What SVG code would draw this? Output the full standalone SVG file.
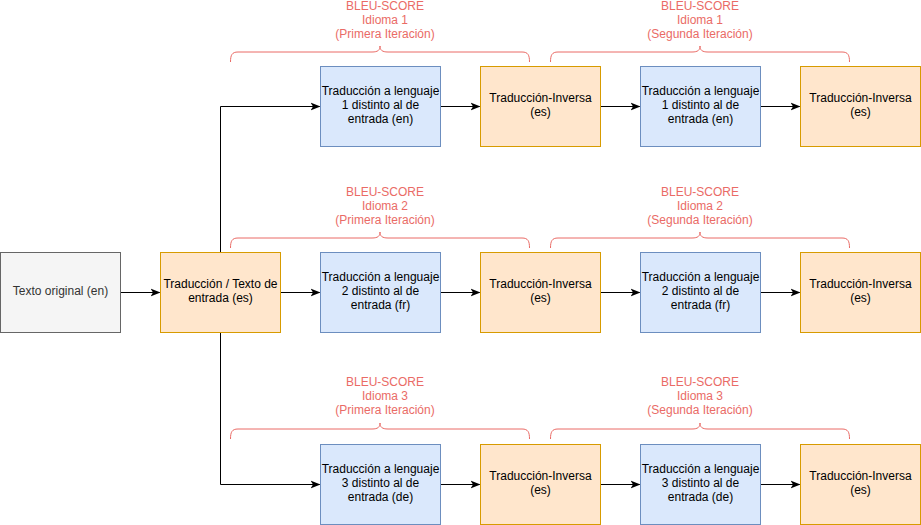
<svg xmlns="http://www.w3.org/2000/svg" width="921" height="525" viewBox="0 0 921 525">
  <defs>
    <marker id="arrow" viewBox="0 0 10 10" refX="9" refY="5" markerWidth="10" markerHeight="10" markerUnits="userSpaceOnUse" orient="auto">
      <path d="M0,1 L10,5 L0,9 L2.5,5 Z" fill="#000"/>
    </marker>
    <!-- curly bracket, 300 wide, spanning x 0..300 -->
    <path id="brace" d="M0.5,11 C0.5,4 2,1 8,1 L142,1 C148,1 150,-1 150,-5 C150,-1 152,1 158,1 L292,1 C298,1 299.5,4 299.5,11" fill="none" stroke="#EA6B66" stroke-width="1"/>
  </defs>
  <style>
    .t { font-family: "Liberation Sans", Helvetica, Arial, sans-serif; font-size: 12px; text-anchor: middle; fill: #000; }
    .g { fill: #333333; }
    .r { fill: #EA6B66; }
    .blue { fill: #dae8fc; stroke: #6c8ebf; stroke-width: 1; }
    .orange { fill: #ffe6cc; stroke: #d79b00; stroke-width: 1; }
    .gray { fill: #f5f5f5; stroke: #666666; stroke-width: 1; }
    .edge { fill: none; stroke: #000; stroke-width: 1; marker-end: url(#arrow); }
  </style>

  <rect width="921" height="525" fill="#fff"/>

  <!-- connectors -->
  <g id="connectors">
    <path class="edge" d="M120.5,292.5 L159.5,292.5"/>
    <path class="edge" d="M220.5,252.5 L220.5,106.5 L319.5,106.5"/>
    <path class="edge" d="M280.5,292.5 L319.5,292.5"/>
    <path class="edge" d="M220.5,332.5 L220.5,484.5 L319.5,484.5"/>
    <path class="edge" d="M440.5,106.5 L479.5,106.5"/>
    <path class="edge" d="M600.5,106.5 L639.5,106.5"/>
    <path class="edge" d="M760.5,106.5 L799.5,106.5"/>
    <path class="edge" d="M440.5,292.5 L479.5,292.5"/>
    <path class="edge" d="M600.5,292.5 L639.5,292.5"/>
    <path class="edge" d="M760.5,292.5 L799.5,292.5"/>
    <path class="edge" d="M440.5,484.5 L479.5,484.5"/>
    <path class="edge" d="M600.5,484.5 L639.5,484.5"/>
    <path class="edge" d="M760.5,484.5 L799.5,484.5"/>
  </g>

  <!-- brackets with BLEU labels -->
  <g id="bleu-1a">
    <use href="#brace" x="230" y="51"/>
    <text class="t r" x="385" y="10">BLEU-SCORE</text>
    <text class="t r" x="385" y="24">Idioma 1</text>
    <text class="t r" x="385" y="38">(Primera Iteración)</text>
  </g>
  <g id="bleu-1b">
    <use href="#brace" x="550" y="51"/>
    <text class="t r" x="700" y="10">BLEU-SCORE</text>
    <text class="t r" x="700" y="24">Idioma 1</text>
    <text class="t r" x="700" y="38">(Segunda Iteración)</text>
  </g>
  <g id="bleu-2a">
    <use href="#brace" x="230" y="237"/>
    <text class="t r" x="385" y="196">BLEU-SCORE</text>
    <text class="t r" x="385" y="210">Idioma 2</text>
    <text class="t r" x="385" y="224">(Primera Iteración)</text>
  </g>
  <g id="bleu-2b">
    <use href="#brace" x="550" y="237"/>
    <text class="t r" x="700" y="196">BLEU-SCORE</text>
    <text class="t r" x="700" y="210">Idioma 2</text>
    <text class="t r" x="700" y="224">(Segunda Iteración)</text>
  </g>
  <g id="bleu-3a">
    <use href="#brace" x="230" y="428"/>
    <text class="t r" x="385" y="386">BLEU-SCORE</text>
    <text class="t r" x="385" y="400">Idioma 3</text>
    <text class="t r" x="385" y="414">(Primera Iteración)</text>
  </g>
  <g id="bleu-3b">
    <use href="#brace" x="550" y="428"/>
    <text class="t r" x="700" y="386">BLEU-SCORE</text>
    <text class="t r" x="700" y="400">Idioma 3</text>
    <text class="t r" x="700" y="414">(Segunda Iteración)</text>
  </g>

  <!-- source nodes -->
  <g id="texto-original">
    <rect class="gray" x="0.5" y="252.5" width="120" height="80"/>
    <text class="t g" x="60.5" y="295">Texto original (en)</text>
  </g>
  <g id="traduccion-entrada">
    <rect class="orange" x="160.5" y="252.5" width="120" height="80"/>
    <text class="t" x="220.5" y="288">Traducción / Texto de</text>
    <text class="t" x="220.5" y="302">entrada (es)</text>
  </g>

  <!-- row 1 -->
  <g id="r1-trad-1">
    <rect class="blue" x="320.5" y="66.5" width="120" height="80"/>
    <text class="t" x="380.5" y="95">Traducción a lenguaje</text>
    <text class="t" x="380.5" y="109">1 distinto al de</text>
    <text class="t" x="380.5" y="123">entrada (en)</text>
  </g>
  <g id="r1-inv-1">
    <rect class="orange" x="480.5" y="66.5" width="120" height="80"/>
    <text class="t" x="540.5" y="102">Traducción-Inversa</text>
    <text class="t" x="540.5" y="116">(es)</text>
  </g>
  <g id="r1-trad-2">
    <rect class="blue" x="640.5" y="66.5" width="120" height="80"/>
    <text class="t" x="700.5" y="95">Traducción a lenguaje</text>
    <text class="t" x="700.5" y="109">1 distinto al de</text>
    <text class="t" x="700.5" y="123">entrada (en)</text>
  </g>
  <g id="r1-inv-2">
    <rect class="orange" x="800.5" y="66.5" width="120" height="80"/>
    <text class="t" x="860.5" y="102">Traducción-Inversa</text>
    <text class="t" x="860.5" y="116">(es)</text>
  </g>

  <!-- row 2 -->
  <g id="r2-trad-1">
    <rect class="blue" x="320.5" y="252.5" width="120" height="80"/>
    <text class="t" x="380.5" y="281">Traducción a lenguaje</text>
    <text class="t" x="380.5" y="295">2 distinto al de</text>
    <text class="t" x="380.5" y="309">entrada (fr)</text>
  </g>
  <g id="r2-inv-1">
    <rect class="orange" x="480.5" y="252.5" width="120" height="80"/>
    <text class="t" x="540.5" y="288">Traducción-Inversa</text>
    <text class="t" x="540.5" y="302">(es)</text>
  </g>
  <g id="r2-trad-2">
    <rect class="blue" x="640.5" y="252.5" width="120" height="80"/>
    <text class="t" x="700.5" y="281">Traducción a lenguaje</text>
    <text class="t" x="700.5" y="295">2 distinto al de</text>
    <text class="t" x="700.5" y="309">entrada (fr)</text>
  </g>
  <g id="r2-inv-2">
    <rect class="orange" x="800.5" y="252.5" width="120" height="80"/>
    <text class="t" x="860.5" y="288">Traducción-Inversa</text>
    <text class="t" x="860.5" y="302">(es)</text>
  </g>

  <!-- row 3 -->
  <g id="r3-trad-1">
    <rect class="blue" x="320.5" y="444.5" width="120" height="80"/>
    <text class="t" x="380.5" y="473">Traducción a lenguaje</text>
    <text class="t" x="380.5" y="487">3 distinto al de</text>
    <text class="t" x="380.5" y="501">entrada (de)</text>
  </g>
  <g id="r3-inv-1">
    <rect class="orange" x="480.5" y="444.5" width="120" height="80"/>
    <text class="t" x="540.5" y="480">Traducción-Inversa</text>
    <text class="t" x="540.5" y="494">(es)</text>
  </g>
  <g id="r3-trad-2">
    <rect class="blue" x="640.5" y="444.5" width="120" height="80"/>
    <text class="t" x="700.5" y="473">Traducción a lenguaje</text>
    <text class="t" x="700.5" y="487">3 distinto al de</text>
    <text class="t" x="700.5" y="501">entrada (de)</text>
  </g>
  <g id="r3-inv-2">
    <rect class="orange" x="800.5" y="444.5" width="120" height="80"/>
    <text class="t" x="860.5" y="480">Traducción-Inversa</text>
    <text class="t" x="860.5" y="494">(es)</text>
  </g>
</svg>
